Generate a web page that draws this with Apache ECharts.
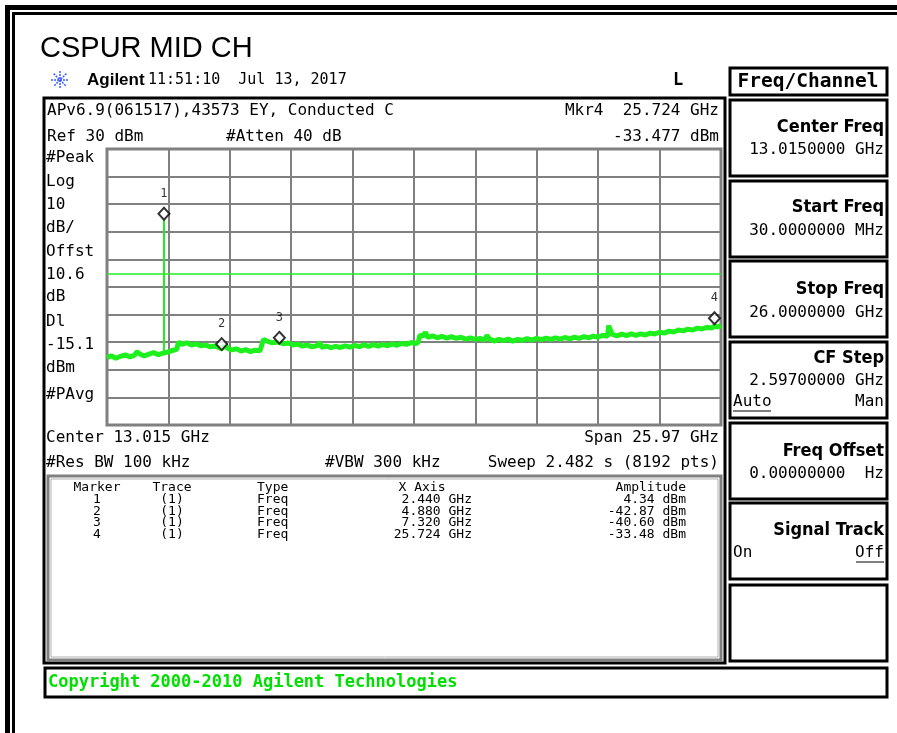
<!DOCTYPE html>
<html>
<head>
<meta charset="utf-8">
<script src="https://cdn.jsdelivr.net/npm/echarts@6/dist/echarts.min.js"></script>
<style>
  html, body { margin: 0; padding: 0; background: #fff; }
  #main { width: 897px; height: 733px; }
</style>
</head>
<body>
<div id="main"></div>
<script>
// trace (GHz / dBm)
var traceGHz = [
  0.03, 0.2, 0.4, 0.6, 0.8, 1.0, 1.2, 1.3, 1.4, 1.6, 1.8, 2.0, 2.2, 2.43, 2.6, 2.8, 2.98, 3.05,
  3.2, 3.4, 3.6, 3.8, 4.0, 4.2, 4.4, 4.6, 4.88, 5.05, 5.1, 5.3, 5.5, 5.7, 5.9, 6.1, 6.3, 6.5, 6.58, 6.65,
  6.8, 7.0, 7.32, 7.5, 7.7, 7.9, 8.1, 8.3, 8.5, 8.7, 8.9, 9.05, 9.1, 9.3, 9.5, 9.7, 9.9, 10.1, 10.3, 10.5,
  10.7, 10.9, 11.1, 11.3, 11.5, 11.7, 11.9, 12.1, 12.3, 12.5, 12.7, 12.9, 13.1, 13.2, 13.26,
  13.4, 13.5, 13.6, 13.8, 14.0, 14.2, 14.4, 14.6, 14.8, 15.0, 15.2, 15.4, 15.6, 15.8, 16.0, 16.1, 16.2, 16.4,
  16.6, 16.8, 17.0, 17.2, 17.4, 17.6, 17.8, 18.0, 18.2, 18.4, 18.6, 18.8, 19.0, 19.2, 19.4, 19.6,
  19.8, 20.0, 20.2, 20.4, 20.6, 20.8, 21.0, 21.2, 21.25, 21.4, 21.6, 21.8, 22.0, 22.2, 22.4, 22.6, 22.8,
  23.0, 23.2, 23.4, 23.6, 23.8, 24.0, 24.2, 24.4, 24.6, 24.8, 25.0, 25.2, 25.4, 25.6, 25.724, 25.85, 26.0
];
var traceDbm = [
  -45.6, -44.9, -45.8, -45.1, -44.6, -45.3, -44.7, -43.4, -44.2, -45.0, -44.3, -43.8, -44.5, -43.9, -43.6, -43.0, -42.6, -40.0,
  -40.8, -40.2, -41.0, -40.6, -41.3, -41.0, -41.7, -41.4, -42.3, -41.0, -42.0, -42.8, -42.4, -43.2, -42.7, -43.4, -42.9, -43.1, -42.4, -39.0,
  -39.6, -40.2, -39.9, -40.6, -40.3, -41.0, -40.7, -41.4, -41.0, -41.7, -41.3, -40.2, -41.9, -41.4, -42.0, -41.5, -41.9, -41.3, -41.8, -41.2,
  -41.6, -41.0, -41.5, -40.9, -41.4, -40.8, -41.3, -40.6, -41.1, -40.4, -40.8, -40.1, -40.5, -39.9, -37.5,
  -37.8, -36.4, -38.3, -37.7, -38.4, -37.9, -38.5, -38.0, -38.6, -38.2, -38.9, -38.4, -39.0, -38.6, -39.3, -37.5, -38.8, -39.6,
  -39.0, -39.4, -38.9, -39.6, -39.0, -39.3, -38.7, -39.2, -38.6, -39.1, -38.5, -39.0, -38.4, -38.9, -38.3, -38.8,
  -38.2, -38.6, -38.0, -38.4, -37.8, -38.2, -37.5, -37.9, -34.0, -37.2, -37.7, -37.1, -37.6, -37.0, -37.5, -37.0, -37.4,
  -36.7, -37.0, -36.4, -36.7, -36.0, -36.3, -35.6, -35.9, -35.3, -35.6, -34.9, -35.2, -34.6, -34.9, -34.2, -34.5, -34.0
];
// carrier spike at the channel centre
var carrierGHz = [2.44, 2.44];
var carrierDbm = [-43.9, 4.34];

var markerNo = ['1', '2', '3', '4'];
var markerGHz = [2.440, 4.880, 7.320, 25.724];
var markerDbm = [4.34, -42.87, -40.60, -33.48];
var markerText = ['4.34 dBm', '-42.87 dBm', '-40.60 dBm', '-33.48 dBm'];
var markerFreqText = ['2.440 GHz', '4.880 GHz', '7.320 GHz', '25.724 GHz'];

var displayLine = -15.1;

var leftLabels = ['#Peak', 'Log', '10', 'dB/', 'Offst', '10.6', 'dB', 'Dl', '-15.1', 'dBm', '#PAvg'];
var leftLabelY = [158, 182, 205, 228, 252, 275, 297, 322, 345, 368, 395];

var keyTitles = ['Center Freq', 'Start Freq', 'Stop Freq', 'CF Step', 'Freq Offset', 'Signal Track'];
var keyValues = ['13.0150000 GHz', '30.0000000 MHz', '26.0000000 GHz', '2.59700000 GHz', '0.00000000  Hz', ''];

var green = '#1ef01e';
var mono = '"DejaVu Sans Mono", "Liberation Mono", monospace';

function txt(x, y, s, size, extra) {
    var st = {
        text: s,
        font: size + 'px ' + mono,
        fill: '#000',
        textAlign: 'left',
        textVerticalAlign: 'middle'
    };
    for (var k in extra) st[k] = extra[k];
    return { type: 'text', x: x, y: y, z: 100, style: st };
}
function box(x, y, w, h, color, lw) {
    return {
        type: 'rect', z: 90,
        shape: { x: x, y: y, width: w, height: h },
        style: { fill: 'none', stroke: color, lineWidth: lw }
    };
}
function line(x1, y1, x2, y2, color, lw, dash) {
    return {
        type: 'line', z: 90,
        shape: { x1: x1, y1: y1, x2: x2, y2: y2 },
        style: { stroke: color, lineWidth: lw, lineDash: dash || null }
    };
}

var g = [];
// outer double border (top and left only)
g.push({ type: 'rect', z: 90, shape: { x: 5, y: 5, width: 892, height: 5 }, style: { fill: '#000' } });
g.push({ type: 'rect', z: 90, shape: { x: 12, y: 12, width: 885, height: 3 }, style: { fill: '#000' } });
g.push({ type: 'rect', z: 90, shape: { x: 5, y: 5, width: 5, height: 728 }, style: { fill: '#000' } });
g.push({ type: 'rect', z: 90, shape: { x: 12, y: 12, width: 3, height: 721 }, style: { fill: '#000' } });

g.push({ type: 'text', x: 40, y: 49, z: 100, style: {
    text: 'CSPUR MID CH', font: '29px "Liberation Sans", Arial, sans-serif',
    fill: '#000', textVerticalAlign: 'middle' } });

// agilent star
[0, 45, 90, 135].forEach(function (a) {
    var r = a * Math.PI / 180;
    g.push(line(60 - 9 * Math.cos(r), 80 - 9 * Math.sin(r), 60 + 9 * Math.cos(r), 80 + 9 * Math.sin(r), '#3a5cff', 1.5, [2, 1]));
});
g.push({ type: 'text', x: 87, y: 80, z: 100, style: {
    text: 'Agilent', font: 'bold 17px "Liberation Sans", Arial, sans-serif',
    fill: '#000', textVerticalAlign: 'middle' } });
g.push(txt(148, 80, '11:51:10  Jul 13, 2017', 15));
g.push(txt(673, 81, 'L', 17, { font: 'bold 17px ' + mono }));

// main screen frame
g.push(box(44, 98, 681, 565, '#000', 3));
g.push(txt(47, 111, 'APv6.9(061517),43573 EY, Conducted C', 16));
g.push(txt(719, 111, 'Mkr4  25.724 GHz', 16, { textAlign: 'right' }));
g.push(txt(47, 137, 'Ref 30 dBm', 16));
g.push(txt(226, 137, '#Atten 40 dB', 16));
g.push(txt(719, 137, '-33.477 dBm', 16, { textAlign: 'right' }));
leftLabels.forEach(function (s, i) {
    g.push(txt(46, leftLabelY[i], s, 16));
});
g.push(txt(46, 438, 'Center 13.015 GHz', 16));
g.push(txt(719, 438, 'Span 25.97 GHz', 16, { textAlign: 'right' }));
g.push(txt(46, 463, '#Res BW 100 kHz', 16));
g.push(txt(325, 463, '#VBW 300 kHz', 16));
g.push(txt(719, 463, 'Sweep 2.482 s (8192 pts)', 16, { textAlign: 'right' }));

// marker table
g.push(box(48, 476, 673, 184, '#808080', 3));
g.push(box(51, 479, 667, 178, '#b0b0b0', 1));
var tf = 13;
g.push(txt(97, 488, 'Marker', tf, { textAlign: 'center' }));
g.push(txt(172, 488, 'Trace', tf, { textAlign: 'center' }));
g.push(txt(257, 488, 'Type', tf));
g.push(txt(422, 488, 'X Axis', tf, { textAlign: 'center' }));
g.push(txt(686, 488, 'Amplitude', tf, { textAlign: 'right' }));
markerNo.forEach(function (m, i) {
    var y = 500 + i * 11.4;
    g.push(txt(97, y, m, tf, { textAlign: 'center' }));
    g.push(txt(172, y, '(1)', tf, { textAlign: 'center' }));
    g.push(txt(257, y, 'Freq', tf));
    g.push(txt(472, y, markerFreqText[i], tf, { textAlign: 'right' }));
    g.push(txt(686, y, markerText[i], tf, { textAlign: 'right' }));
});

// softkeys
g.push(box(730, 68, 157, 27, '#000', 3));
g.push(txt(808, 82, 'Freq/Channel', 19.5, { textAlign: 'center', font: 'bold 19.5px ' + mono }));
var keyTop = [100, 181, 261, 342, 423, 503, 585];
keyTop.forEach(function (t, i) {
    g.push(box(730, t, 157, 76, '#000', 3));
});
var titleY = [127, 207, 289, 358, 451, 530];
var valueY = [150, 231, 313, 381, 474, 553];
keyTitles.forEach(function (s, i) {
    g.push({ type: 'text', x: 884, y: titleY[i], z: 100, style: {
        text: s, font: 'bold 18px "DejaVu Sans Condensed", "DejaVu Sans", sans-serif',
        fill: '#000', textAlign: 'right', textVerticalAlign: 'middle' } });
    if (keyValues[i]) g.push(txt(884, valueY[i], keyValues[i], 16, { textAlign: 'right' }));
});
g.push(txt(733, 402, 'Auto', 16));
g.push(line(733, 411, 771, 411, '#000', 1));
g.push(txt(884, 402, 'Man', 16, { textAlign: 'right' }));
g.push(txt(733, 553, 'On', 16));
g.push(txt(884, 553, 'Off', 16, { textAlign: 'right' }));
g.push(line(856, 562, 884, 562, '#000', 1));

// copyright bar
g.push(box(45, 668, 842, 29, '#000', 3));
g.push(txt(48, 683, 'Copyright 2000-2010 Agilent Technologies', 17, { fill: '#00e000', font: 'bold 17px ' + mono }));

var traceData = traceGHz.map(function (f, i) { return [f, traceDbm[i]]; });
var carrierData = carrierGHz.map(function (f, i) { return [f, carrierDbm[i]]; });
var markerData = markerGHz.map(function (f, i) { return { value: [f, markerDbm[i]], name: markerNo[i] }; });

var myChart = echarts.init(document.getElementById('main'));
option = {
    animation: false,
    grid: {
        left: 107, top: 149, width: 614, height: 276,
        show: true, borderColor: '#808080', borderWidth: 3
    },
    xAxis: [
        { type: 'value', min: 0.03, max: 26, show: false },
        {
            type: 'value', min: 0, max: 10, interval: 1,
            axisLine: { show: false }, axisTick: { show: false }, axisLabel: { show: false },
            splitLine: { show: true, lineStyle: { color: '#808080', width: 2 } }
        }
    ],
    yAxis: {
        type: 'value', min: -70, max: 30, interval: 10,
        axisLine: { show: false }, axisTick: { show: false }, axisLabel: { show: false },
        splitLine: { show: true, lineStyle: { color: '#808080', width: 2 } }
    },
    graphic: { elements: g },
    series: [
        {
            name: 'trace',
            type: 'line',
            xAxisIndex: 0,
            data: traceData,
            showSymbol: false,
            lineStyle: { color: green, width: 5 },
            markLine: {
                silent: true,
                symbol: 'none',
                label: { show: false },
                lineStyle: { color: '#22ee22', width: 1.5, type: 'solid' },
                data: [{ yAxis: displayLine }]
            }
        },
        {
            name: 'carrier',
            type: 'line',
            xAxisIndex: 0,
            data: carrierData,
            showSymbol: false,
            lineStyle: { color: green, width: 2 }
        },
        {
            name: 'markers',
            type: 'scatter',
            xAxisIndex: 0,
            data: markerData,
            symbol: 'diamond',
            symbolSize: [11, 12],
            symbolOffset: [0, -6],
            itemStyle: { color: '#fff', borderColor: '#000', borderWidth: 2 },
            label: {
                show: true, position: 'top', distance: 1, offset: [0, -6],
                formatter: '{b}', color: '#000', fontSize: 12, fontFamily: 'DejaVu Sans Mono'
            },
            z: 5
        }
    ]
};

myChart.setOption(option);
</script>
</body>
</html>
